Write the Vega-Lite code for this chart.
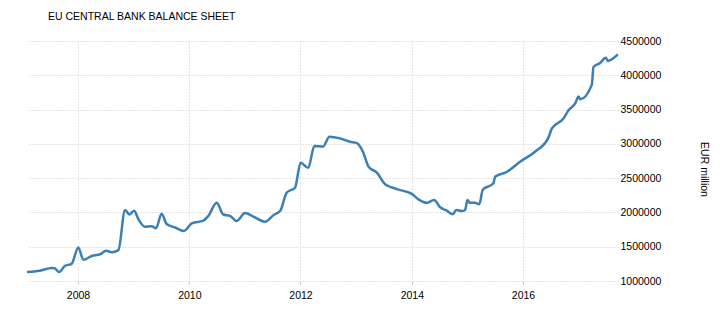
{
  "$schema": "https://vega.github.io/schema/vega-lite/v6.json",
  "width": 591,
  "height": 240,
  "autosize": "none",
  "padding": {"left": 27, "top": 41, "right": 102, "bottom": 33},
  "background": "white",
  "title": {"text": "EU CENTRAL BANK BALANCE SHEET", "anchor": "start", "frame": "group", "dx": 21, "offset": 14, "font": "Liberation Sans", "fontSize": 10.5, "fontWeight": "normal", "color": "#000000"},
  "config": {"view": {"stroke": null}},
  "data": {"values": [
    {"date": "2007-01-31", "value": 1130000},
    {"date": "2007-04-25", "value": 1150000},
    {"date": "2007-07-11", "value": 1190000},
    {"date": "2007-08-01", "value": 1185000},
    {"date": "2007-08-30", "value": 1130000},
    {"date": "2007-10-07", "value": 1220000},
    {"date": "2007-11-20", "value": 1250000},
    {"date": "2008-01-03", "value": 1490000},
    {"date": "2008-02-05", "value": 1310000},
    {"date": "2008-03-31", "value": 1365000},
    {"date": "2008-05-25", "value": 1390000},
    {"date": "2008-07-03", "value": 1440000},
    {"date": "2008-08-10", "value": 1420000},
    {"date": "2008-09-22", "value": 1450000},
    {"date": "2008-11-05", "value": 2035000},
    {"date": "2008-12-03", "value": 1970000},
    {"date": "2009-01-03", "value": 2025000},
    {"date": "2009-02-01", "value": 1900000},
    {"date": "2009-03-16", "value": 1790000},
    {"date": "2009-04-29", "value": 1800000},
    {"date": "2009-05-27", "value": 1770000},
    {"date": "2009-07-03", "value": 1980000},
    {"date": "2009-08-05", "value": 1830000},
    {"date": "2009-09-29", "value": 1780000},
    {"date": "2009-11-27", "value": 1730000},
    {"date": "2010-01-17", "value": 1840000},
    {"date": "2010-04-03", "value": 1880000},
    {"date": "2010-05-06", "value": 1950000},
    {"date": "2010-06-30", "value": 2140000},
    {"date": "2010-08-12", "value": 1970000},
    {"date": "2010-09-25", "value": 1950000},
    {"date": "2010-11-08", "value": 1875000},
    {"date": "2011-01-02", "value": 1990000},
    {"date": "2011-02-25", "value": 1940000},
    {"date": "2011-05-13", "value": 1865000},
    {"date": "2011-07-07", "value": 1960000},
    {"date": "2011-08-20", "value": 2020000},
    {"date": "2011-10-03", "value": 2290000},
    {"date": "2011-11-26", "value": 2360000},
    {"date": "2012-01-02", "value": 2725000},
    {"date": "2012-02-21", "value": 2650000},
    {"date": "2012-04-01", "value": 2970000},
    {"date": "2012-05-27", "value": 2960000},
    {"date": "2012-07-09", "value": 3105000},
    {"date": "2012-09-17", "value": 3080000},
    {"date": "2012-11-22", "value": 3030000},
    {"date": "2013-01-05", "value": 3010000},
    {"date": "2013-02-14", "value": 2885000},
    {"date": "2013-03-23", "value": 2665000},
    {"date": "2013-05-17", "value": 2580000},
    {"date": "2013-07-10", "value": 2410000},
    {"date": "2013-09-25", "value": 2340000},
    {"date": "2014-01-01", "value": 2270000},
    {"date": "2014-02-14", "value": 2190000},
    {"date": "2014-04-10", "value": 2140000},
    {"date": "2014-05-27", "value": 2180000},
    {"date": "2014-07-06", "value": 2075000},
    {"date": "2014-08-19", "value": 2025000},
    {"date": "2014-09-27", "value": 1975000},
    {"date": "2014-10-19", "value": 2035000},
    {"date": "2014-11-25", "value": 2020000},
    {"date": "2014-12-17", "value": 2035000},
    {"date": "2015-01-01", "value": 2180000},
    {"date": "2015-01-19", "value": 2140000},
    {"date": "2015-02-21", "value": 2140000},
    {"date": "2015-03-20", "value": 2120000},
    {"date": "2015-04-12", "value": 2330000},
    {"date": "2015-06-21", "value": 2425000},
    {"date": "2015-07-02", "value": 2520000},
    {"date": "2015-09-16", "value": 2590000},
    {"date": "2015-12-13", "value": 2740000},
    {"date": "2016-03-20", "value": 2885000},
    {"date": "2016-06-17", "value": 3095000},
    {"date": "2016-07-09", "value": 3225000},
    {"date": "2016-09-23", "value": 3370000},
    {"date": "2016-10-26", "value": 3490000},
    {"date": "2016-12-09", "value": 3590000},
    {"date": "2016-12-31", "value": 3690000},
    {"date": "2017-01-11", "value": 3650000},
    {"date": "2017-03-28", "value": 3860000},
    {"date": "2017-04-08", "value": 4120000},
    {"date": "2017-05-22", "value": 4180000},
    {"date": "2017-06-28", "value": 4255000},
    {"date": "2017-07-11", "value": 4210000},
    {"date": "2017-09-15", "value": 4305000}
  ]},
  "mark": {"type": "line", "interpolate": "monotone", "color": "#3b7fb4", "strokeWidth": 2.5},
  "encoding": {
    "x": {
      "field": "date", "type": "temporal",
      "scale": {"type": "utc", "domain": [{"year": 2007, "month": 1, "date": 31, "utc": true}, {"year": 2017, "month": 9, "date": 16, "utc": true}]},
      "axis": {
        "title": null,
        "values": [{"year": 2008, "utc": true}, {"year": 2010, "utc": true}, {"year": 2012, "utc": true}, {"year": 2014, "utc": true}, {"year": 2016, "utc": true}],
        "format": "%Y",
        "grid": true, "gridColor": "#c8c8c8", "gridDash": [1, 2],
        "domain": false, "tickSize": 3, "tickColor": "#c8c8c8",
        "labelPadding": 6, "labelFont": "Liberation Sans", "labelFontSize": 10.5, "labelColor": "#000000"
      }
    },
    "y": {
      "field": "value", "type": "quantitative",
      "scale": {"domain": [1000000, 4500000], "nice": false, "zero": false},
      "axis": {
        "orient": "right",
        "values": [1000000, 1500000, 2000000, 2500000, 3000000, 3500000, 4000000, 4500000],
        "format": "d",
        "title": "EUR million",
        "grid": true, "gridColor": "#c8c8c8", "gridDash": [1, 2],
        "domain": false, "ticks": false, "labelPadding": 2,
        "labelFont": "Liberation Sans", "labelFontSize": 10.5, "labelColor": "#000000",
        "titleFont": "Liberation Sans", "titleFontSize": 10.5, "titleFontWeight": "normal", "titleColor": "#000000",
        "titleAngle": 90, "titleX": 85, "titleY": 128, "titleBaseline": "middle", "titleAlign": "center"
      }
    }
  }
}
